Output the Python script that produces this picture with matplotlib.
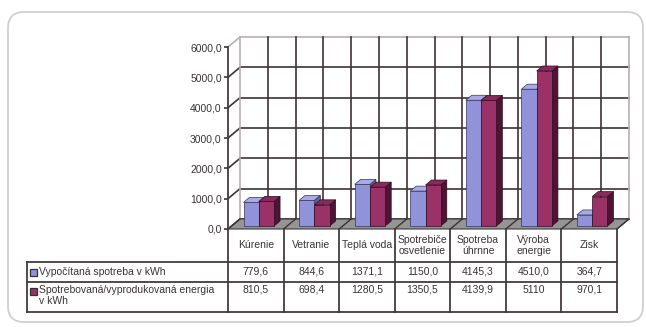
import matplotlib
matplotlib.use("Agg")
import matplotlib.pyplot as plt
import matplotlib.transforms as mtransforms
from matplotlib.patches import Polygon, Rectangle, FancyBboxPatch
import numpy as np

plt.rcParams['font.family'] = ['Liberation Sans', 'DejaVu Sans']

# data
categories = ['Kúrenie', 'Vetranie', 'Teplá voda', 'Spotrebiče\nosvetlenie',
              'Spotreba\núhrnne', 'Výroba\nenergie', 'Zisk']
vypocitana = [779.6, 844.6, 1371.1, 1150.0, 4145.3, 4510.0, 364.7]
spotrebovana = [810.5, 698.4, 1280.5, 1350.5, 4139.9, 5110, 970.1]
vyp_text = ['779,6', '844,6', '1371,1', '1150,0', '4145,3', '4510,0', '364,7']
spo_text = ['810,5', '698,4', '1280,5', '1350,5', '4139,9', '5110', '970,1']
series_names = ['Vypočítaná spotreba v kWh',
                'Spotrebovaná/vyprodukovaná energia\nv kWh']
yticks = [0, 1000, 2000, 3000, 4000, 5000, 6000]

# colours: face, top, side, edge
blue = ('#9193d8', '#a9abe6', '#5f619f', '#34345e')
maroon = ('#9a3268', '#87295b', '#4d1436', '#2e0c20')
grid_col = '#3d3333'
text_col = '#3a3434'

W, H = 646, 327
fig = plt.figure(figsize=(W / 100, H / 100), dpi=100)

# rounded frame
frame = FancyBboxPatch((0.08, 0.05), 6.35, 3.10,
                       boxstyle="round,pad=0,rounding_size=0.16",
                       transform=fig.dpi_scale_trans, facecolor='none',
                       edgecolor='#cfcfcf', linewidth=1.3, zorder=-10)
fig.patches.append(frame)

# front plane of the chart
ax_left, ax_right, ax_base, ax_top = 228, 617, 229, 47
ax = fig.add_axes([ax_left / W, (H - ax_base) / H,
                   (ax_right - ax_left) / W, (ax_base - ax_top) / H])
ax.set_xlim(-0.5, 6.5)
ax.set_ylim(0, 6000)
ax.patch.set_visible(False)
for s in ['top', 'right', 'bottom', 'left']:
    ax.spines[s].set_visible(False)
ax.set_xticks([])
ax.set_yticks(yticks)
ax.set_yticklabels([('%.1f' % v).replace('.', ',') for v in yticks],
                   fontsize=7.5, color=text_col)
ax.tick_params(axis='y', direction='out', length=3, width=1.2,
               color=grid_col, pad=1.5)

ux = (ax_right - ax_left) / 7.0
uy = (ax_base - ax_top) / 6000.0


def shift(px, py):
    return px / ux, py / uy


wx, wy = shift(12, 10)   # back wall depth
fx, fy = shift(3, 3)     # bar front face
dx, dy = shift(6, 5)     # bar depth

# left side wall and back wall
ax.add_patch(Polygon([(-0.5, 0), (-0.5 + wx, wy), (-0.5 + wx, 6000 + wy),
                      (-0.5, 6000)], closed=True, facecolor='white',
                     edgecolor='none', clip_on=False, zorder=0))
ax.add_patch(Rectangle((-0.5 + wx, wy), 7, 6000, facecolor='white',
                       edgecolor='none', clip_on=False, zorder=0))
for v in yticks:
    c = '#b8b0b0' if v == 6000 else grid_col
    ax.plot([-0.5 + wx, 6.5 + wx], [v + wy, v + wy], color=c, lw=1.2,
            clip_on=False, zorder=1)
    ax.plot([-0.5, -0.5 + wx], [v, v + wy], color=c, lw=1.2,
            clip_on=False, zorder=1)
for k in np.arange(-0.5, 7.0, 0.5):
    c = '#b8b0b0' if k in (-0.5, 6.5) else grid_col
    ax.plot([k + wx, k + wx], [wy, 6000 + wy], color=c, lw=1.2,
            clip_on=False, zorder=1)

# floor
ax.add_patch(Polygon([(-0.5, 0), (6.5, 0), (6.5 + wx, wy), (-0.5 + wx, wy)],
                     closed=True, facecolor='#959595', edgecolor='#3a3a3a',
                     lw=0.8, clip_on=False, zorder=2))
for k in np.arange(-0.5, 7.0, 1.0):
    ax.plot([k, k + wx], [0, wy], color=grid_col, lw=1.0, clip_on=False,
            zorder=2)

# bars
bw = 0.275
for i in range(len(categories)):
    for off, val, col in [(-bw / 2, vypocitana[i], blue),
                          (bw / 2, spotrebovana[i], maroon)]:
        x0 = i + off - bw / 2 + fx
        x1 = x0 + bw
        y0 = fy
        y1 = val + fy
        ax.add_patch(Polygon([(x1, y0), (x1 + dx, y0 + dy), (x1 + dx, y1 + dy),
                              (x1, y1)], closed=True, facecolor=col[2],
                             edgecolor=col[3], lw=0.5, zorder=3))
        ax.add_patch(Polygon([(x0, y1), (x1, y1), (x1 + dx, y1 + dy),
                              (x0 + dx, y1 + dy)], closed=True,
                             facecolor=col[1], edgecolor=col[3], lw=0.5,
                             zorder=3))
        ax.add_patch(Rectangle((x0, y0), bw, val, facecolor=col[0],
                               edgecolor=col[3], lw=0.5, zorder=3))

# data table under the chart
tr = mtransforms.blended_transform_factory(ax.transData, ax.transAxes)
hpx = ax_base - ax_top
r_hdr = -33 / hpx
r_1 = -53 / hpx
r_2 = -83 / hpx
x_left = -0.5 - (ax_left - 27) / ux

line_kw = dict(color='#443c3c', lw=1.3, transform=tr, clip_on=False)
ax.plot([-0.5, -0.5], [r_2, 1], **line_kw)
for k in range(1, 8):
    ax.plot([k - 0.5, k - 0.5], [r_2, 0], **line_kw)
ax.plot([x_left, x_left], [r_2, r_hdr], **line_kw)
for r in (r_hdr, r_1, r_2):
    ax.plot([x_left, 6.5], [r, r], **line_kw)

for i, c in enumerate(categories):
    ax.text(i, r_hdr / 2, c, transform=tr, ha='center', va='center',
            fontsize=7.5, color=text_col, linespacing=1.05)
    ax.text(i, (r_hdr + r_1) / 2, vyp_text[i], transform=tr, ha='center',
            va='center', fontsize=7.5, color=text_col)
    ax.text(i, r_1 - 3 / hpx, spo_text[i], transform=tr, ha='center',
            va='top', fontsize=7.5, color=text_col)

mk = 7 / ux
for name, col, ytxt, va in [(series_names[0], blue, (r_hdr + r_1) / 2, 'center'),
                            (series_names[1], maroon, r_1 - 3 / hpx, 'top')]:
    ymk = ytxt if va == 'center' else r_1 - 9 / hpx
    ax.add_patch(Rectangle((x_left + 3 / ux, ymk - 3.5 / hpx), mk, 7 / hpx,
                           transform=tr, facecolor=col[0], edgecolor='#333333',
                           lw=0.9, clip_on=False))
    ax.text(x_left + 12 / ux, ytxt, name, transform=tr, ha='left', va=va,
            fontsize=7.5, color=text_col, linespacing=1.1)

fig.savefig('out.png', dpi=100)
